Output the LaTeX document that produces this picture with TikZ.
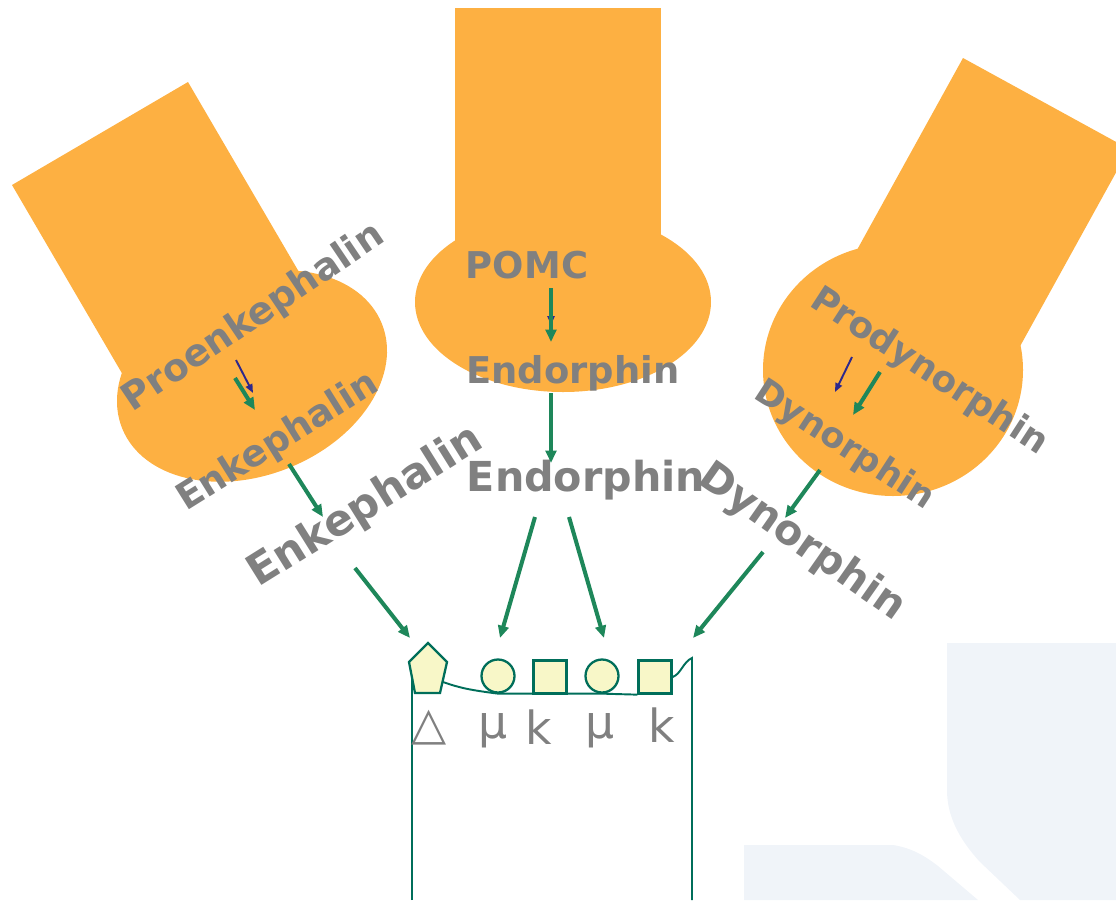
\documentclass[tikz,border=0pt]{standalone}
\usepackage{fontspec}
\setmainfont{DejaVu Sans}
\usepackage{tikz}
\usetikzlibrary{positioning, shapes.geometric, arrows.meta}
\usepackage{color}
\definecolor{soma}{RGB}{253,176,66}
\definecolor{cutgreen}{RGB}{30,135,90}
\definecolor{labelgrey}{RGB}{128,128,128}
\definecolor{stepblue}{RGB}{46,40,140}
\definecolor{membrane}{RGB}{0,110,90}
\definecolor{site}{RGB}{248,247,200}
\definecolor{wash}{RGB}{240,244,249}

\begin{document}
\begin{tikzpicture}[x=0.02cm,y=-0.02cm,
   peptide/.style={text=labelgrey,inner sep=0pt,font=\bfseries\fontsize{21}{25}\selectfont},
   bigpeptide/.style={peptide,font=\bfseries\fontsize{23.5}{28}\selectfont},
   cut/.style={draw=cutgreen,line width=2.3pt,-{Triangle[length=7pt,width=6pt]}},
   hint/.style={draw=stepblue,line width=1.1pt,-{Triangle[length=5pt,width=4pt]}},
   site/.style={draw=membrane,fill=site,line width=1.3pt,inner sep=0pt},
   rlabel/.style={text=labelgrey,inner sep=0pt,font=\fontsize{26}{30}\selectfont}]
\useasboundingbox (0,0) rectangle (1116,900);

% faint panels in the corner
\fill[wash] (947,643) -- (1116,643) -- (1116,900) -- (1020,900) -- (980,862)
   .. controls (958,838) and (947,815) .. (947,790) -- cycle;
\fill[wash] (744,845) -- (893,845) .. controls (912,848) and (925,856) .. (938,866)
   -- (978,900) -- (744,900) -- cycle;

% three neurons
\fill[soma] (12,185) -- (188,82) -- (306,284) -- (130,387) -- cycle;
\fill[soma,rotate around={22:(252,376)}] (252,376) ellipse [x radius=140, y radius=99];
\fill[soma] (455,8) rectangle (661,330);
\fill[soma] (563,302) ellipse [x radius=148, y radius=90];
\fill[soma] (963,58) -- (1129,149) -- (1013,359) -- (847,268) -- cycle;
\fill[soma] (893,370) ellipse [x radius=130, y radius=126];

% precursors and products
\node[peptide,rotate=34,font=\bfseries\fontsize{21.5}{26}\selectfont] (proenk) at (254,318) {Proenkephalin};
\node[peptide,rotate=32] (enkin) at (278,442) {Enkephalin};
\node[bigpeptide,rotate=32,font=\bfseries\fontsize{24.5}{29}\selectfont] (enkout) at (366,507) {Enkephalin};
\node[peptide] (pomc) at (527,265) {POMC};
\node[peptide] (endin) at (573,373) {Endorphin};
\node[bigpeptide] (endout) at (586,480) {Endorphin};
\node[peptide,rotate=-33,font=\bfseries\fontsize{20.5}{25}\selectfont] (prodyn) at (929,372) {Prodynorphin};
\node[peptide,rotate=-33,font=\bfseries\fontsize{20}{24}\selectfont] (dynin) at (844,446) {Dynorphin};
\node[bigpeptide,rotate=-35] (dynout) at (802,543) {Dynorphin};

% receptor sites on the membrane
\node[site,circle,minimum size=33*0.02cm] (mu1) at (498,676) {};
\node[site,minimum size=33*0.02cm] (k1) at (550,677) {};
\node[site,circle,minimum size=33*0.02cm] (mu2) at (602,676) {};
\node[site,minimum size=33*0.02cm] (k2) at (655,677) {};
\draw[membrane,line width=1.1pt] (412,900) -- (412,672);
\draw[membrane,line width=1.1pt] (443,682) .. controls (460,688) and (470,690) .. (mu1.south)
   -- (mu2.south) -- (k2.south west);
\draw[membrane,line width=1.1pt] (k2.east) .. controls (681,674) and (683,662) .. (692,658) -- (692,900);
\draw[site] (428,643) -- (447,662) -- (440,693) -- (415,693) -- (409,662) -- cycle;

\node[rlabel] (ldelta) at (429,728) {△};
\node[rlabel] (lmu1) at (493,731) {μ};
\node[rlabel] (lk1) at (539,727) {k};
\node[rlabel] (lmu2) at (600,731) {μ};
\node[rlabel] (lk2) at (662,725) {k};

% cleavage steps
\coordinate (a1) at (236,360); \coordinate (a2) at (253,393);
\coordinate (b1) at (235,378); \coordinate (b2) at (255,410);
\coordinate (c1) at (289,464); \coordinate (c2) at (323,517);
\coordinate (d1) at (355,568); \coordinate (d2) at (410,638);
\coordinate (e1) at (551,288); \coordinate (e2) at (551,342);
\coordinate (f1) at (551,393); \coordinate (f2) at (551,463);
\coordinate (g1) at (535,517); \coordinate (g2) at (500,638);
\coordinate (h1) at (569,517); \coordinate (h2) at (604,638);
\coordinate (i1) at (852,357); \coordinate (i2) at (835,392);
\coordinate (j1) at (880,372); \coordinate (j2) at (853,415);
\coordinate (m1) at (820,470); \coordinate (m2) at (785,518);
\coordinate (n1) at (763,552); \coordinate (n2) at (693,638);
\draw[hint] (a1) -- (a2);
\draw[hint] (i1) -- (i2);
\draw[hint] (551,305) -- (551,325);
\foreach \s/\t in {b1/b2,c1/c2,d1/d2,e1/e2,f1/f2,g1/g2,h1/h2,j1/j2,m1/m2,n1/n2}
   \draw[cut] (\s) -- (\t);
\end{tikzpicture}
\end{document}
